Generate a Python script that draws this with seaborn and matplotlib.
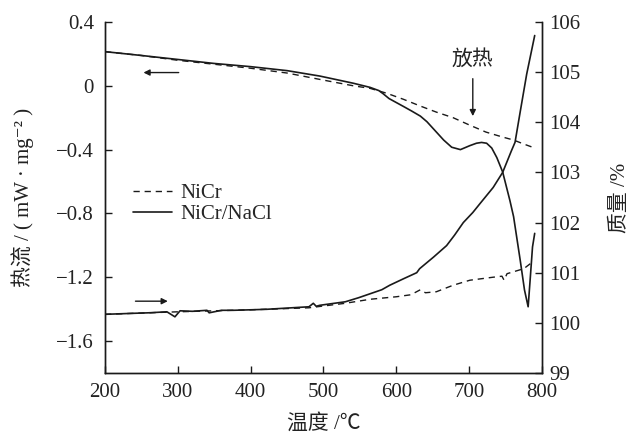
import numpy as np
import pandas as pd
import matplotlib
matplotlib.use("Agg")
import matplotlib.pyplot as plt
import seaborn as sns

# DSC heat flow (mW/mg^2) vs temperature
dsc_nicr_t = [200, 250, 300, 350, 400, 450, 495, 541, 564, 587, 610, 633, 655,
              678, 700, 723, 745, 761, 775, 790]
dsc_nicr = [0.214, 0.19, 0.16, 0.135, 0.11, 0.08, 0.04, 0.0, -0.016, -0.047,
            -0.085, -0.127, -0.165, -0.20, -0.245, -0.29, -0.32, -0.34, -0.365, -0.39]

dsc_nacl_t = [200, 250, 300, 350, 400, 450, 495, 541, 564, 576, 582, 590, 600, 610,
              621, 633, 642, 651, 665, 676, 688, 701, 710, 717, 724, 731, 738, 746,
              756, 761, 770, 776, 781, 784, 787, 790]
dsc_nacl = [0.214, 0.19, 0.165, 0.14, 0.12, 0.095, 0.061, 0.016, -0.01, -0.03, -0.05,
            -0.08, -0.105, -0.13, -0.158, -0.19, -0.225, -0.27, -0.34, -0.385, -0.40,
            -0.375, -0.36, -0.355, -0.36, -0.39, -0.45, -0.54, -0.72, -0.82, -1.09,
            -1.28, -1.385, -1.20, -1.01, -0.925]

# TG mass (%) vs temperature
tg_nicr_t = [200, 300, 400, 480, 530, 564, 600, 620, 633, 640, 655, 678, 701, 733,
             745, 748, 752, 775, 784]
tg_nicr = [100.17, 100.22, 100.26, 100.3, 100.39, 100.47, 100.52, 100.56, 100.66,
           100.6, 100.62, 100.75, 100.85, 100.91, 100.93, 100.85, 100.98, 101.08, 101.18]

tg_nacl_t = [200, 220, 239, 260, 285, 296, 303, 320, 340, 343, 360, 376, 400, 422,
             445, 468, 480, 486, 490, 495, 510, 530, 548, 564, 580, 591, 610, 628,
             632, 651, 669, 680, 692, 705, 715, 733, 746, 758, 763, 770, 779, 790]
tg_nacl = [100.17, 100.18, 100.19, 100.2, 100.22, 100.12, 100.24, 100.23, 100.25,
           100.2, 100.25, 100.25, 100.26, 100.27, 100.29, 100.31, 100.32, 100.39,
           100.33, 100.35, 100.38, 100.42, 100.5, 100.58, 100.66, 100.75, 100.88,
           101.0, 101.08, 101.31, 101.54, 101.75, 102.0, 102.2, 102.38,
           102.7, 103.0, 103.43, 103.6, 104.2, 104.96, 105.73]

sns.set_style("ticks")
plt.rcParams["font.family"] = ["Liberation Serif", "Noto Sans CJK SC", "DejaVu Serif"]
plt.rcParams["axes.unicode_minus"] = True

fig = plt.figure(figsize=(6.38, 4.37), dpi=100)
ax = fig.add_axes([0.1646, 0.1465, 0.6849, 0.8032])
ax2 = ax.twinx()

ink = "#1a1a1a"
txt = "#222222"
dash = (0, (4.5, 3.5))

sns.lineplot(x=dsc_nicr_t, y=dsc_nicr, ax=ax, color=ink, lw=1.0, linestyle=dash)
sns.lineplot(x=dsc_nacl_t, y=dsc_nacl, ax=ax, color=ink, lw=1.2)
sns.lineplot(x=tg_nicr_t, y=tg_nicr, ax=ax2, color=ink, lw=1.0, linestyle=dash)
sns.lineplot(x=tg_nacl_t, y=tg_nacl, ax=ax2, color=ink, lw=1.2)

ax.set_xlim(200, 800)
ax.set_ylim(-1.8, 0.4)
ax.set_yticks([-1.6, -1.2, -0.8, -0.4, 0, 0.4])
ax.set_yticklabels(["−1.6", "−1.2", "−0.8", "−0.4", "0", "0.4"])
ax.set_xticks([200, 300, 400, 500, 600, 700, 800])
ax2.set_ylim(99, 106)
ax2.set_yticks(range(99, 107))

for a in (ax, ax2):
    a.spines["top"].set_visible(False)
    for s in a.spines.values():
        s.set_linewidth(1.0)
        s.set_color(ink)
    a.tick_params(direction="in", length=5, width=1.0, colors=ink,
                  labelsize=15, labelcolor=txt)
ax.tick_params(axis="x", pad=7)
ax.tick_params(axis="y", pad=8)
ax2.tick_params(axis="y", pad=5)

ax.set_xlabel("温度 /℃", fontsize=15, labelpad=9, color=txt)
ax.set_ylabel("热流 / ( mW · mg⁻² )", fontsize=15, labelpad=16, color=txt)
ax2.set_ylabel("质量 /%", fontsize=15, labelpad=22, color=txt)

# direction arrows and exotherm marker
ax.annotate("", xy=(249, 0.083), xytext=(305, 0.083),
            arrowprops=dict(arrowstyle="-|>", color=ink, lw=1.0, mutation_scale=9))
ax.annotate("", xy=(290, -1.35), xytext=(238, -1.35),
            arrowprops=dict(arrowstyle="-|>", color=ink, lw=1.0, mutation_scale=9))
ax.annotate("放热", xy=(705, -0.19), xytext=(705, 0.1),
            ha="center", va="bottom", fontsize=15, color=txt,
            arrowprops=dict(arrowstyle="-|>", color=ink, lw=1.0, mutation_scale=9,
                            shrinkA=4, shrinkB=0))

handles = ax.get_lines()[:2]
ax.legend(handles, ["NiCr", "NiCr/NaCl"], loc="upper left",
          bbox_to_anchor=(0.035, 0.575), frameon=False, fontsize=15,
          handlelength=1.9, handletextpad=0.4, labelspacing=0.05,
          borderaxespad=0.2)

fig.savefig("out.png", dpi=100)
